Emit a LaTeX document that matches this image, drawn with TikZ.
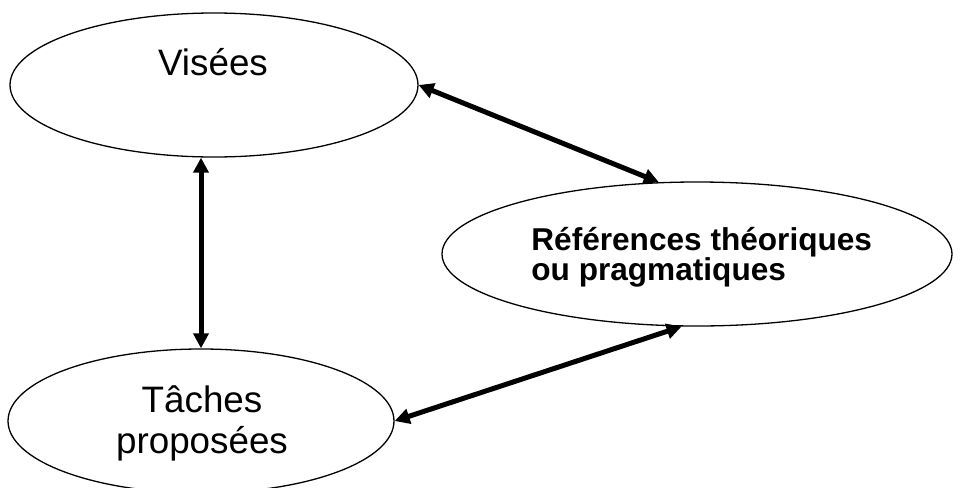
\documentclass[tikz,border=0pt]{standalone}
\usepackage{fontspec}
\setmainfont{Liberation Sans}
\usetikzlibrary{shapes.geometric,arrows.meta}
\begin{document}
\begin{tikzpicture}[x=0.5pt,y=-0.5pt,
  bubble/.style={draw, ellipse, line width=0.65pt, inner sep=0pt, minimum height=72pt},
  link/.style={line width=2.5pt, {Triangle[length=7.5pt,width=7.5pt]}-{Triangle[length=7.5pt,width=7.5pt]}},
  lbl/.style={inner sep=0pt, anchor=base, font=\fontsize{18.4}{20}\selectfont},
  blbl/.style={inner sep=0pt, anchor=base west, font=\fontsize{15.8}{18}\selectfont\bfseries}]
\useasboundingbox (0,0) rectangle (960,488);
\node[bubble, minimum width=204pt] (vis) at (214,85) {};
\node[bubble, minimum width=255pt] (ref) at (697,254) {};
\node[bubble, minimum width=193pt] (tac) at (201,421) {};
\node[lbl] (tvis) at (213,75) {Visées};
\node[lbl] (ttac1) at (202,412) {Tâches};
\node[lbl] (ttac2) at (202,453) {proposées};
\node[blbl] (tref1) at (531,250) {Références théoriques};
\node[blbl] (tref2) at (531,280) {ou pragmatiques};
\draw[link] (vis.east) -- (ref.118.4);
\draw[link] (vis.south -| tac.north) -- (tac.north);
\draw[link] (tac.east) -- (ref.258);
\end{tikzpicture}
\end{document}
